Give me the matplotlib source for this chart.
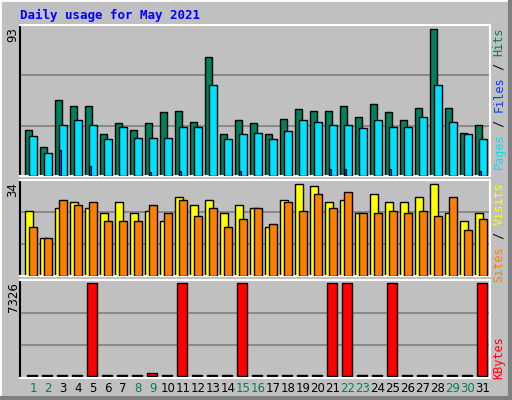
import matplotlib
matplotlib.use("Agg")
import matplotlib.pyplot as plt
from matplotlib.patches import Rectangle

days = list(range(1, 32))
hits = [29.2,18.5,48.2,44.4,44.4,26.7,33.7,29.2,33.7,40.6,41.2,34.3,75.3,26.7,35.6,33.7,26.7,36.2,42.5,41.2,41.2,44.4,37.5,45.7,40.6,35.6,43.1,93,43.1,27.4,32.4]
pages = [25.5,14.7,32.4,35.6,32.4,23.6,31.1,24.2,24.2,24.2,31.1,31.1,57.6,23.6,26.7,27.4,23.6,28.6,35.6,34.3,32.4,32.4,30.5,35.6,31.1,31.1,37.5,57.6,34.3,26.7,23.6]
files = [0,0,16.6,0,6.5,0,0,0,2.7,0,3.4,0,0,0,3.4,0,0,0,0,0,4.6,4.6,0,0,4.6,0,0,0,0,0,3.4]
visits = [24.0,14.0,25.1,27.3,25.1,23.3,27.3,23.3,24.0,20.3,29.2,26.2,28.1,23.3,26.2,25.1,18.1,28.1,34,33.3,27.3,28.1,23.3,30.3,27.3,27.3,29.2,34,23.3,20.3,23.3]
sites = [18.1,14.0,28.1,26.2,27.3,20.3,20.3,20.3,26.2,23.3,28.1,22.2,25.1,18.1,21.1,25.1,19.2,27.3,24.0,30.3,25.1,31.0,23.3,23.3,24.0,23.3,24.0,22.2,29.2,17.0,21.1]
kbytes = [110,110,110,110,7326,110,110,110,260,110,7326,110,110,110,7326,110,110,110,110,110,7326,7326,110,110,7326,110,110,110,110,110,7326]
weekend = {1,2,8,9,15,16,22,23,29,30}

W, H = 512, 400
BG = "#C0C0C0"
fig = plt.figure(figsize=(W/100, H/100), dpi=100, facecolor=BG)

def fx(px): return px / W
def fy(py): return 1 - py / H

fig.patches.append(Rectangle((0, 0), 1, 1, transform=fig.transFigure, fill=False, ec="white", lw=2))
fig.add_artist(plt.Line2D([fx(2), fx(510)], [fy(398), fy(398)], color="#808080", lw=3, transform=fig.transFigure))
fig.add_artist(plt.Line2D([fx(510), fx(510)], [fy(2), fy(398)], color="#808080", lw=3, transform=fig.transFigure))

x0, x1 = 20, 490
def mkax(top, bot):
    ax = fig.add_axes([fx(x0), fy(bot), fx(x1) - fx(x0), (bot - top) / H])
    ax.set_facecolor(BG)
    ax.set_xlim(-1/3, 31.0)
    ax.set_xticks([]); ax.set_yticks([])
    for s in ax.spines.values():
        s.set_color("white"); s.set_linewidth(1.5)
    ax.spines["left"].set_color("black")
    return ax

ax1 = mkax(25, 176)
ax2 = mkax(180, 276)
ax3 = mkax(280, 378)

def grid(ax, top, bottom=0):
    ax.set_ylim(bottom, top)
    for f in (1/3, 2/3):
        ax.axhline(bottom + (top - bottom) * f, color="#808080", lw=1.2, zorder=0)

grid(ax1, 93 * 151 / 147)
grid(ax2, 34 * 96 / 92)
grid(ax3, 7326 * 98 / 95, -150)

L = [d - 1 for d in days]
kw = dict(edgecolor="black", linewidth=1, align="edge")
ax1.bar(L, hits, width=0.47, color="#00805C", **kw, zorder=2)
ax1.bar([l + 0.27 for l in L], pages, width=0.53, color="#00E0FF", **kw, zorder=3)
ax1.bar([l + 0.27 for l in L], files, width=0.13, color="#0040FF", edgecolor="black", linewidth=0.8, align="edge", zorder=4)
ax2.bar(L, visits, width=0.53, color="#FFFF00", **kw, zorder=2)
ax2.bar([l + 0.27 for l in L], sites, width=0.5, color="#FF8000", **kw, zorder=3)
ax3.bar([l + 0.13 for l in L], kbytes, width=0.67, color="#FF0000", **kw, zorder=2)

for d in days:
    fig.text(fx(20 + 15 * (d - 1) + 13), fy(388), str(d), ha="center", va="center",
             fontsize=8.5, color="#00805C" if d in weekend else "black")

fig.text(fx(20), fy(15), "Daily usage for May 2021", fontsize=9, color="#0000FF",
         fontweight="bold", family="DejaVu Sans Mono", va="center", ha="left")

for txt, ytop in (("93", 27), ("34", 182), ("7326", 282)):
    fig.text(fx(13), fy(ytop), txt, rotation=90, ha="center", va="top", fontsize=8.5)

cw = 7.1
def side(pieces, ytop):
    N = sum(len(p) for p, _ in pieces)
    s = 0
    for p, c in pieces:
        off = (N - s - len(p)) * cw
        fig.text(fx(499), fy(ytop + off), p, rotation=90, ha="center", va="top",
                 fontsize=8.5, color=c, family="DejaVu Sans Mono")
        s += len(p)

side([("Pages", "#00E0FF"), (" / ", "black"), ("Files", "#0040FF"), (" / ", "black"), ("Hits", "#00805C")], 27)
side([("Sites", "#FF8000"), (" / ", "black"), ("Visits", "#FFFF00")], 182)
side([("KBytes", "#FF0000")], 336)

fig.savefig("out.png", dpi=100, facecolor=BG)
